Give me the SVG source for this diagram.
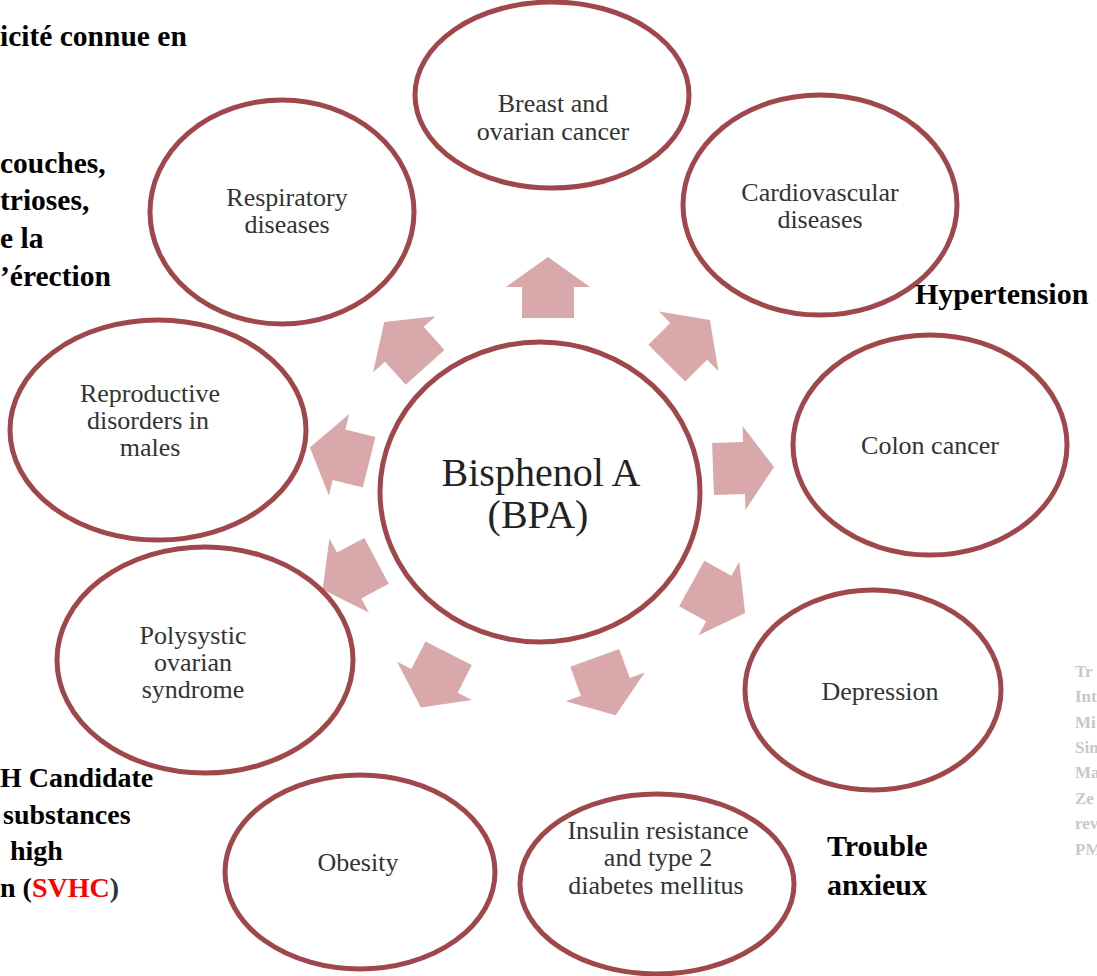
<svg xmlns="http://www.w3.org/2000/svg" xmlns:xlink="http://www.w3.org/1999/xlink" width="1097" height="976" viewBox="0 0 1097 976">
<style>
.node{fill:#ffffff;stroke:#a0474c;stroke-width:5}
.lbl{font-family:"Liberation Serif",Tinos,"Times New Roman","DejaVu Serif",serif;font-size:26px;fill:#333333;text-anchor:middle}
.big{font-family:"Liberation Serif",Tinos,"Times New Roman","DejaVu Serif",serif;font-size:40px;fill:#222222;text-anchor:middle}
.note{font-family:"Liberation Serif",Tinos,"Times New Roman","DejaVu Serif",serif;font-size:30px;font-weight:bold;fill:#000000}
.tl{font-size:29.5px}
.bl{font-size:28px}
.gray{font-family:"Liberation Serif",Tinos,"Times New Roman","DejaVu Serif",serif;font-size:17px;font-weight:bold;fill:#c8c8c8}
.arr{fill:#d8a8ab}
</style>
<defs>
<polygon id="ar" class="arr" points="0,-31 42,-1 26,-1 26,30 -26,30 -26,-1 -42,-1"/>
</defs>
<rect width="1097" height="976" fill="#ffffff"/>
<g id="connectors">
<use xlink:href="#ar" transform="translate(548,288)"/>
<use xlink:href="#ar" transform="translate(688,342) rotate(45)"/>
<use xlink:href="#ar" transform="translate(743,468) rotate(88)"/>
<use xlink:href="#ar" transform="translate(718,598) rotate(119)"/>
<use xlink:href="#ar" transform="translate(605,686) rotate(160)"/>
<use xlink:href="#ar" transform="translate(435,680) rotate(207)"/>
<use xlink:href="#ar" transform="translate(350,575) rotate(242)"/>
<use xlink:href="#ar" transform="translate(340,455) rotate(284)"/>
<use xlink:href="#ar" transform="translate(405,345) rotate(318)"/>
</g>
<g id="n-breast"><ellipse class="node" cx="552" cy="95" rx="137" ry="93"/><text class="lbl" x="553" y="112">Breast and</text><text class="lbl" x="553" y="140">ovarian cancer</text></g>
<g id="n-cardio"><ellipse class="node" cx="820" cy="205" rx="137" ry="110"/><text class="lbl" x="820" y="201">Cardiovascular</text><text class="lbl" x="820" y="228">diseases</text></g>
<g id="n-colon"><ellipse class="node" cx="930" cy="445" rx="137" ry="110"/><text class="lbl" x="930" y="454">Colon cancer</text></g>
<g id="n-depression"><ellipse class="node" cx="873" cy="690" rx="128" ry="100"/><text class="lbl" x="880" y="700">Depression</text></g>
<g id="n-insulin"><ellipse class="node" cx="657" cy="884" rx="137" ry="90"/><text class="lbl" x="658" y="839">Insulin resistance</text><text class="lbl" x="658" y="866">and type 2</text><text class="lbl" x="656" y="894">diabetes mellitus</text></g>
<g id="n-obesity"><ellipse class="node" cx="360" cy="872" rx="135" ry="97"/><text class="lbl" x="358" y="871">Obesity</text></g>
<g id="n-pcos"><ellipse class="node" cx="205" cy="660" rx="148" ry="113"/><text class="lbl" x="193" y="644">Polysystic</text><text class="lbl" x="193" y="671">ovarian</text><text class="lbl" x="193" y="698">syndrome</text></g>
<g id="n-repro"><ellipse class="node" cx="158" cy="430" rx="148" ry="110"/><text class="lbl" x="150" y="402">Reproductive</text><text class="lbl" x="148" y="429">disorders in</text><text class="lbl" x="150" y="456">males</text></g>
<g id="n-resp"><ellipse class="node" cx="282" cy="212" rx="132" ry="112"/><text class="lbl" x="287" y="206">Respiratory</text><text class="lbl" x="287" y="233">diseases</text></g>
<g id="n-bpa"><ellipse class="node" cx="540" cy="492" rx="160" ry="150"/><text class="big" x="541" y="486">Bisphenol A</text><text class="big" x="538" y="528">(BPA)</text></g>
<g id="notes">
<text class="note tl" x="0" y="46">icité connue en</text>
<text class="note tl" x="0" y="173">couches,</text>
<text class="note tl" x="0" y="210">trioses,</text>
<text class="note tl" x="0" y="248">e la</text>
<text class="note tl" x="0" y="286">’érection</text>
<text class="note" x="915" y="304">Hypertension</text>
<text class="note" x="827" y="856">Trouble</text>
<text class="note" x="827" y="895">anxieux</text>
<text class="note bl" x="0" y="787">H Candidate</text>
<text class="note bl" x="3" y="824">substances</text>
<text class="note bl" x="10" y="860">high</text>
<text class="note bl" x="0" y="897">n (<tspan fill="#ff0000">SVHC</tspan><tspan fill="#2a3540">)</tspan></text>
<text class="gray" x="1075" y="677">Tr</text>
<text class="gray" x="1075" y="702">Int</text>
<text class="gray" x="1075" y="728">Mi</text>
<text class="gray" x="1075" y="753">Sin</text>
<text class="gray" x="1075" y="778">Ma</text>
<text class="gray" x="1075" y="804">Ze</text>
<text class="gray" x="1075" y="829">rev</text>
<text class="gray" x="1075" y="855">PM</text>
</g>
</svg>
